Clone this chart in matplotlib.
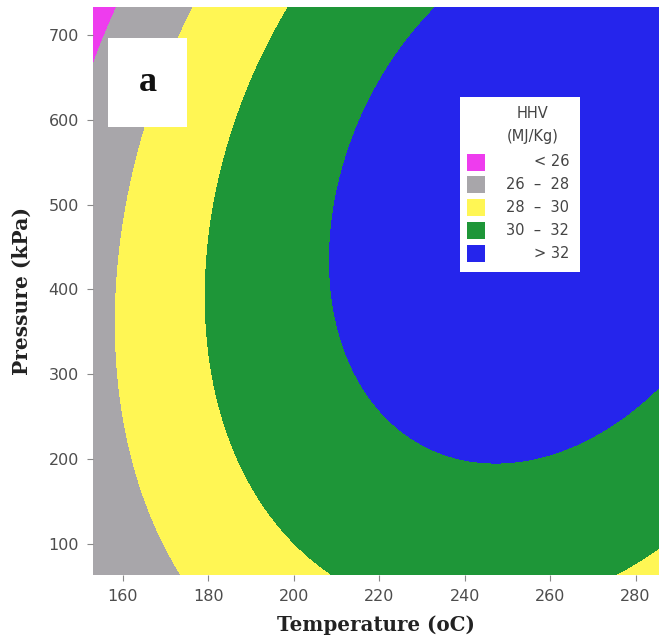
import numpy as np
import matplotlib
matplotlib.use("Agg")
import matplotlib.pyplot as plt
from matplotlib.patches import Rectangle

# HHV contour boundaries: (temperature oC, pressure kPa)
hhv32_T = [236, 218.5, 211.5, 208.5, 206.8, 207.8, 211.5, 217.8, 222.5, 246, 277, 285.5]
hhv32_P = [733, 623, 564, 505, 426, 367, 308, 250, 231, 190, 246, 282]
hhv30_T = [198.4, 190.5, 182, 179, 178.7, 184.4, 192.8, 208.5, 274, 285.5]
hhv30_P = [733, 623, 505, 400, 364, 246, 167, 63, 63, 99]
hhv28_T = [175.7, 173.8, 164.7, 160.5, 158.8, 158.6, 162, 168, 174.5]
hhv28_P = [733, 700, 588, 505, 400, 364, 246, 167, 63]
hhv26_T = [158, 153]
hhv26_P = [733, 668]
# estimated value in the gray bottom-left corner (no magenta there)
corner_T, corner_P, corner_Z = [153], [63], [26.6]

levels = [26, 28, 30, 32]
labels = ["< 26", "26  \u2013  28", "28  \u2013  30", "30  \u2013  32", "> 32"]
colors = ["#EE3CEE", "#A8A6AA", "#FFF654", "#1E9638", "#2525EC"]

T_LIM = (153, 285.5)
P_LIM = (63, 733)

# fit a quadratic response surface through the boundary points
T = np.array(hhv32_T + hhv30_T + hhv28_T + hhv26_T + corner_T, dtype=float)
P = np.array(hhv32_P + hhv30_P + hhv28_P + hhv26_P + corner_P, dtype=float)
Z = np.array([32] * len(hhv32_T) + [30] * len(hhv30_T) + [28] * len(hhv28_T) + [26] * len(hhv26_T) + corner_Z,
             dtype=float)

def design(t, p):
    t = (t - 220) / 60.0
    p = (p - 400) / 300.0
    return np.column_stack([np.ones_like(t), t, p, t * t, p * p, t * p])

coef, *_ = np.linalg.lstsq(design(T, P), Z, rcond=None)

tt, pp = np.meshgrid(np.linspace(*T_LIM, 400), np.linspace(*P_LIM, 400))
zz = (design(tt.ravel(), pp.ravel()) @ coef).reshape(tt.shape)

fig = plt.figure(figsize=(6.59, 6.42), dpi=100)
ax = fig.add_axes([93 / 659, 1 - 575 / 642, 566 / 659, 568 / 642])
ax.contourf(tt, pp, zz, levels=[-1e3] + levels + [1e3], colors=colors)
ax.set_xlim(*T_LIM)
ax.set_ylim(*P_LIM)
ax.set_xticks(range(160, 281, 20))
ax.set_yticks(range(100, 701, 100))
for s in ax.spines.values():
    s.set_visible(False)
ax.tick_params(length=4, color="#888888", labelcolor="#4d4d4d", labelsize=11.5, pad=6)

ax.set_xlabel("Temperature (oC)", family="DejaVu Serif", fontweight="bold", fontsize=14.3, labelpad=8, color="#222222")
ax.set_ylabel("Pressure (kPa)", family="DejaVu Serif", fontweight="bold", fontsize=14.6, labelpad=12, color="#222222")

# panel tag
ax.add_patch(Rectangle((0.0265, 0.789), 0.14, 0.156, transform=ax.transAxes, facecolor="white", edgecolor="none", zorder=5))
ax.text(0.0965, 0.867, "a", transform=ax.transAxes, ha="center", va="center", family="Liberation Serif",
        fontweight="bold", fontsize=26, color="#111111", zorder=6)

# legend box drawn by hand so the labels can be right aligned
def fx(px):
    return (px - 93) / 566.0

def fy(py):
    return 1 - (py - 7) / 568.0

ax.add_patch(Rectangle((fx(460), fy(272)), fx(580) - fx(460), fy(97) - fy(272), transform=ax.transAxes,
                       facecolor="white", edgecolor="none", zorder=5))
ax.text(fx(533), fy(113), "HHV", transform=ax.transAxes, ha="center", va="center", fontsize=10.5, color="#444444", zorder=6)
ax.text(fx(533), fy(137), "(MJ/Kg)", transform=ax.transAxes, ha="center", va="center", fontsize=10.5, color="#444444", zorder=6)
for i, (lab, col) in enumerate(zip(labels, colors)):
    yc = 162 + i * 22.8
    ax.add_patch(Rectangle((fx(467), fy(yc + 8.5)), fx(485) - fx(467), fy(yc - 8.5) - fy(yc + 8.5),
                           transform=ax.transAxes, facecolor=col, edgecolor="none", zorder=6))
    ax.text(fx(569), fy(yc), lab, transform=ax.transAxes, ha="right", va="center", fontsize=10.5, color="#444444", zorder=6)

fig.savefig("out.png", dpi=100)
